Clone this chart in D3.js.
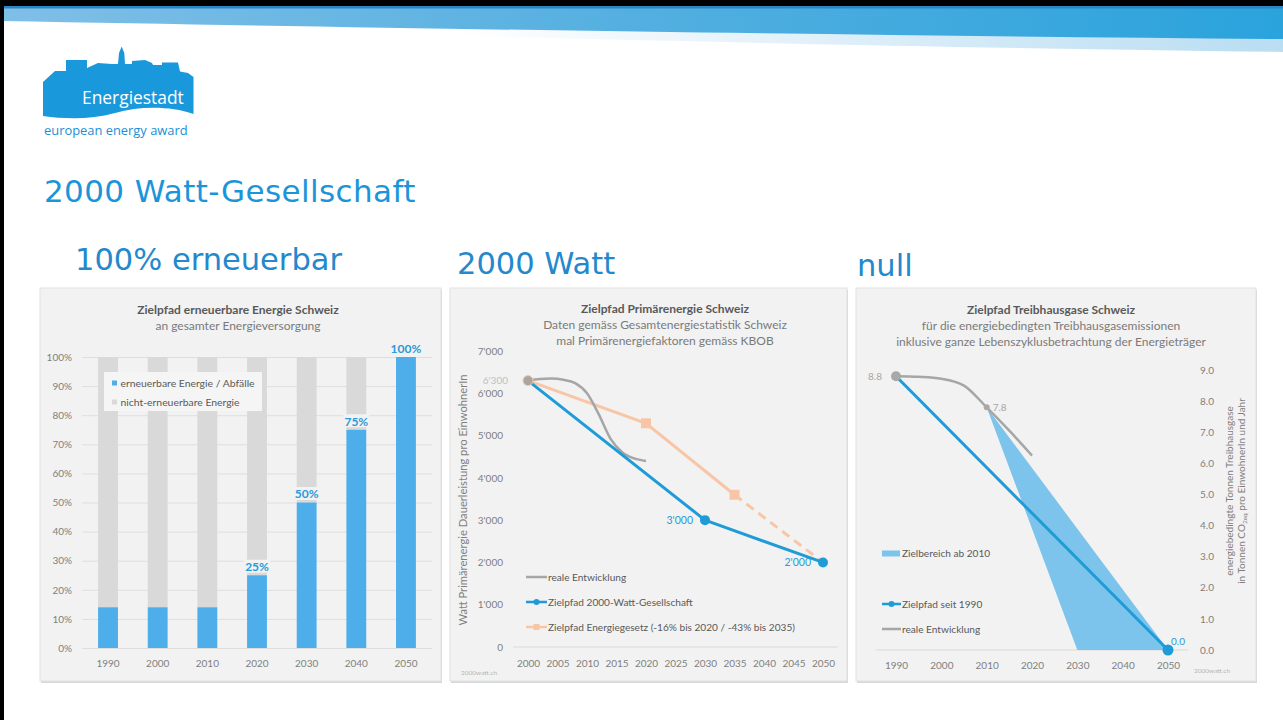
<!DOCTYPE html>
<html>
<head>
<meta charset="utf-8">
<script src="https://cdn.jsdelivr.net/npm/d3@7"></script>
<style>
html, body { margin: 0; padding: 0; background: #fff; }
svg { display: block; font-family: Lato, "Open Sans", sans-serif; }
</style>
</head>
<body>
<svg id="slide" width="1283" height="720"></svg>
<script>
// ---- Erneuerbare Energie (Anteil an gesamter Energieversorgung, %) ----
const renewYears = ["1990", "2000", "2010", "2020", "2030", "2040", "2050"];
const renewShare = [14, 14, 14, 25, 50, 75, 100];
const pctTicks = [0, 10, 20, 30, 40, 50, 60, 70, 80, 90, 100];

// ---- Primärenergie (Watt Dauerleistung pro EinwohnerIn) ----
const wattTicks = [0, 1000, 2000, 3000, 4000, 5000, 6000, 7000];
const wattYearTicks = [2000, 2005, 2010, 2015, 2020, 2025, 2030, 2035, 2040, 2045, 2050];
const realYears = [2000, 2002, 2004, 2006, 2008, 2010, 2012, 2014, 2016, 2018, 2020];
const realWatt = [6300, 6340, 6350, 6320, 6240, 6000, 5500, 4920, 4600, 4460, 4400];
const goalYears = [2000, 2030, 2050];
const goalWatt = [6300, 3000, 2000];
const lawYears = [2000, 2020, 2035, 2050];
const lawWatt = [6300, 5290, 3600, 2000];

// ---- Treibhausgase (t CO2eq pro EinwohnerIn und Jahr) ----
const ghgTicks = [0, 1, 2, 3, 4, 5, 6, 7, 8, 9];
const ghgYearTicks = [1990, 2000, 2010, 2020, 2030, 2040, 2050];
const ghgRealYears = [1990, 1995, 2000, 2005, 2010, 2015, 2020];
const ghgReal = [8.8, 8.78, 8.72, 8.5, 7.8, 7.05, 6.25];
const ghgGoalYears = [1990, 2050];
const ghgGoal = [8.8, 0];
const zoneYears = [2010, 2030, 2050];
const zoneLow = [7.8, 0, 0];
const zoneHigh = [7.8, 3.9, 0];

const ch = d3.formatLocale({ decimal: ".", thousands: "'", grouping: [3], currency: ["CHF ", ""] });
const fmtWatt = ch.format(",");
const fmtGhg = d3.format(".1f");

const svg = d3.select("#slide");
const defs = svg.append("defs");

const COL = {
  blue: "#1f9bd7", bar: "#4daeea", grey: "#d9d9d9", greyLine: "#a6a6a6",
  orange: "#f8c6a6", zone: "#7cc4eb", label: "#2a9ad8",
  title: "#595959", sub: "#7a7a7a", tick: "#7f7f7f", panel: "#f2f2f2"
};
const HEAD_FONT = "'DejaVu Sans', Verdana, sans-serif";
const LOGO_FONT = "'Open Sans', sans-serif";

// ---------- slide frame and banner ----------
const gBan = defs.append("linearGradient").attr("id", "banner").attr("x1", 0).attr("x2", 1);
gBan.append("stop").attr("offset", 0).attr("stop-color", "#80bfe7");
gBan.append("stop").attr("offset", 0.5).attr("stop-color", "#53afe0");
gBan.append("stop").attr("offset", 1).attr("stop-color", "#2aa3dc");
const gWave = defs.append("linearGradient").attr("id", "wave").attr("x1", 0).attr("x2", 1);
gWave.append("stop").attr("offset", 0.35).attr("stop-color", "#ffffff");
gWave.append("stop").attr("offset", 1).attr("stop-color", "#b9ddf2");

svg.append("rect").attr("width", 1283).attr("height", 720).attr("fill", "#fff");
svg.append("path").attr("d", "M0,18 C400,26 800,34 1283,38 L1283,52 C900,47 600,40 0,24 Z").attr("fill", "url(#wave)");
svg.append("path").attr("d", "M0,6 L1283,6 L1283,39 C900,36 500,30 0,21 Z").attr("fill", "url(#banner)");
svg.append("rect").attr("x", 0).attr("y", 6).attr("width", 1283).attr("height", 2.5).attr("fill", "#2a85c4");
svg.append("rect").attr("x", 0).attr("y", 0).attr("width", 1283).attr("height", 6).attr("fill", "#000");
svg.append("rect").attr("x", 0).attr("y", 0).attr("width", 4).attr("height", 720).attr("fill", "#000");

// ---------- logo ----------
const logo = svg.append("g");
logo.append("path")
  .attr("d", "M43,82 L55,71 L66,71 L66,60 L87,60 L87,68 L98,63 L112,64 L118,64 L119,53 L121.7,46.5 L124.3,53 L125,64 L132,64 L132,61 L145,60 L152,63 L153,65 L162,65 L162,62.5 L178,62.5 L180,71.5 L188,73 L193.5,77 L193.5,114 C170,106 140,106 115,113 C90,120 65,119 43,116 Z")
  .attr("fill", "#1a98dc");
logo.append("text").attr("x", 82).attr("y", 104).style("font-family", LOGO_FONT).attr("font-size", 17.4)
  .attr("fill", "#fff").text("Energiestadt");
logo.append("text").attr("x", 44).attr("y", 135).style("font-family", LOGO_FONT).attr("font-size", 12.9)
  .attr("fill", "#1a8fd6").text("european energy award");

// ---------- headings ----------
svg.append("text").attr("x", 44).attr("y", 202).style("font-family", HEAD_FONT).attr("font-size", 31)
  .attr("letter-spacing", 0.4).attr("fill", "#1b95d9").text("2000 Watt-Gesellschaft");
const heads = [
  { t: "100% erneuerbar", x: 75, y: 270 },
  { t: "2000 Watt", x: 457, y: 274 },
  { t: "null", x: 857, y: 276 }
];
svg.selectAll("text.head").data(heads).join("text").attr("class", "head")
  .attr("x", d => d.x).attr("y", d => d.y).style("font-family", HEAD_FONT).attr("font-size", 30.5)
  .attr("fill", "#2389cc").text(d => d.t);

// ---------- panels ----------
const panels = [
  { x: 40, y: 288, w: 401, h: 393 },
  { x: 450, y: 288, w: 397, h: 393 },
  { x: 856, y: 288, w: 400, h: 393 }
];
svg.selectAll("rect.shadow").data(panels).join("rect").attr("class", "shadow")
  .attr("x", d => d.x + 1).attr("y", d => d.y + 2).attr("width", d => d.w).attr("height", d => d.h).attr("fill", "#d8d8d8");
svg.selectAll("rect.panel").data(panels).join("rect").attr("class", "panel")
  .attr("x", d => d.x).attr("y", d => d.y).attr("width", d => d.w).attr("height", d => d.h)
  .attr("fill", COL.panel).attr("stroke", "#e2e2e2");

function titles(g, cx, lines) {
  lines.forEach((l, i) => {
    g.append("text").attr("x", cx).attr("y", l.y).attr("text-anchor", "middle")
      .attr("font-size", 12).attr("font-weight", i === 0 ? 700 : 400)
      .attr("fill", i === 0 ? COL.title : COL.sub).text(l.t);
  });
}
function styleAxis(g, size, color) {
  g.select(".domain").remove();
  g.selectAll("text").style("font-family", "Lato").attr("font-size", size).attr("fill", color);
}

// ================= Chart 1: erneuerbare Energie =================
const c1 = svg.append("g");
titles(c1, 238, [
  { t: "Zielpfad erneuerbare Energie Schweiz", y: 314 },
  { t: "an gesamter Energieversorgung", y: 330 }
]);
const x1 = d3.scaleBand().domain(renewYears).range([83.2, 430.8]).paddingInner(0.6).paddingOuter(0.3);
const y1 = d3.scaleLinear().domain([0, 100]).range([648, 357]);

const ax1 = c1.append("g").attr("transform", "translate(82,0)")
  .call(d3.axisLeft(y1).tickValues(pctTicks).tickFormat(d => d + "%").tickSizeInner(-350).tickSizeOuter(0).tickPadding(10));
styleAxis(ax1, 10, COL.tick);
ax1.selectAll(".tick line").attr("stroke", "#dedede");

const bx1 = c1.append("g").attr("transform", "translate(0,648)")
  .call(d3.axisBottom(x1).tickSize(0).tickPadding(12));
styleAxis(bx1, 10, COL.tick);

const rows1 = renewYears.map((y, i) => ({ year: y, share: renewShare[i] }));
c1.selectAll("rect.rest").data(rows1).join("rect").attr("class", "rest")
  .attr("x", d => x1(d.year)).attr("width", x1.bandwidth())
  .attr("y", y1(100)).attr("height", d => y1(d.share) - y1(100)).attr("fill", COL.grey);
c1.selectAll("rect.ren").data(rows1).join("rect").attr("class", "ren")
  .attr("x", d => x1(d.year)).attr("width", x1.bandwidth())
  .attr("y", d => y1(d.share)).attr("height", d => y1(0) - y1(d.share)).attr("fill", COL.bar);

const lab1 = c1.selectAll("g.vlab").data(rows1.filter(d => d.share >= 25)).join("g").attr("class", "vlab")
  .attr("transform", d => `translate(${x1(d.year) + x1.bandwidth() / 2},${y1(d.share) - 8.5})`);
lab1.append("rect").attr("x", d => d.share === 100 ? -17 : -13).attr("y", -7).attr("width", d => d.share === 100 ? 34 : 26)
  .attr("height", 13).attr("fill", COL.panel);
lab1.append("text").attr("text-anchor", "middle").attr("dy", "0.36em").attr("font-size", 12).attr("font-weight", 700)
  .attr("fill", COL.label).text(d => d.share + "%");

// legend
const lg1 = c1.append("g");
lg1.append("rect").attr("x", 104).attr("y", 372).attr("width", 158).attr("height", 39).attr("fill", "#f5f5f5");
[{ t: "erneuerbare Energie / Abfälle", c: COL.bar, y: 383 }, { t: "nicht-erneuerbare Energie", c: COL.grey, y: 402 }]
  .forEach(it => {
    lg1.append("rect").attr("x", 112).attr("y", it.y - 2.5).attr("width", 5).attr("height", 5).attr("fill", it.c);
    lg1.append("text").attr("x", 120.5).attr("y", it.y).attr("dy", "0.35em").attr("font-size", 10.4).attr("fill", COL.title).text(it.t);
  });

// ================= Chart 2: Primärenergie =================
const c2 = svg.append("g");
titles(c2, 665, [
  { t: "Zielpfad Primärenergie Schweiz", y: 313 },
  { t: "Daten gemäss Gesamtenergiestatistik Schweiz", y: 329 },
  { t: "mal Primärenergiefaktoren gemäss KBOB", y: 345 }
]);
const x2 = d3.scaleLinear().domain([2000, 2050]).range([528, 823]);
const y2 = d3.scaleLinear().domain([0, 7000]).range([647, 351]);

const ax2 = c2.append("g").attr("transform", "translate(513,0)")
  .call(d3.axisLeft(y2).tickValues(wattTicks).tickFormat(fmtWatt).tickSize(0).tickPadding(10));
styleAxis(ax2, 10, COL.tick);
c2.append("line").attr("x1", x2(1997.5)).attr("x2", x2(2052.5)).attr("y1", y2(0)).attr("y2", y2(0)).attr("stroke", "#d9d9d9");
const bx2 = c2.append("g").attr("transform", `translate(0,${y2(0)})`)
  .call(d3.axisBottom(x2).tickValues(wattYearTicks).tickFormat(d3.format("d")).tickSize(0).tickPadding(13));
styleAxis(bx2, 10, COL.tick);

c2.append("text").attr("transform", "translate(467,500) rotate(-90)").attr("text-anchor", "middle")
  .attr("font-size", 11.2).attr("fill", COL.tick).text("Watt Primärenergie Dauerleistung pro EinwohnerIn");
c2.append("text").attr("x", 508).attr("y", y2(6300)).attr("dy", "0.35em").attr("text-anchor", "end")
  .attr("font-size", 10).attr("fill", "#c0c0c0").text(fmtWatt(6300));

const line2 = d3.line().x(d => x2(d[0])).y(d => y2(d[1]));
const lawPts = lawYears.map((y, i) => [y, lawWatt[i]]);
c2.append("path").attr("d", line2(lawPts.slice(0, 3))).attr("fill", "none").attr("stroke", COL.orange).attr("stroke-width", 3);
c2.append("path").attr("d", line2(lawPts.slice(2))).attr("fill", "none").attr("stroke", COL.orange).attr("stroke-width", 3)
  .attr("stroke-dasharray", "9,6");
c2.selectAll("rect.law").data(lawPts.slice(1, 3)).join("rect").attr("class", "law")
  .attr("x", d => x2(d[0]) - 5).attr("y", d => y2(d[1]) - 5).attr("width", 10).attr("height", 10).attr("fill", COL.orange);

const realPts = realYears.map((y, i) => [y, realWatt[i]]);
const smooth2 = d3.line().x(d => x2(d[0])).y(d => y2(d[1])).curve(d3.curveMonotoneX);
c2.append("path").attr("d", smooth2(realPts)).attr("fill", "none")
  .attr("stroke", COL.greyLine).attr("stroke-width", 2.5);

const goalPts = goalYears.map((y, i) => [y, goalWatt[i]]);
c2.append("path").attr("d", line2(goalPts)).attr("fill", "none")
  .attr("stroke", COL.blue).attr("stroke-width", 3).attr("stroke-linejoin", "round");
c2.selectAll("circle.goal").data(goalPts.slice(1)).join("circle").attr("class", "goal")
  .attr("cx", d => x2(d[0])).attr("cy", d => y2(d[1])).attr("r", 5).attr("fill", COL.blue);
c2.append("circle").attr("cx", x2(2000)).attr("cy", y2(6300)).attr("r", 5).attr("fill", "#aaa59f").attr("stroke", "#f3c9ad").attr("stroke-width", 1);
c2.selectAll("text.goal").data(goalPts.slice(1)).join("text").attr("class", "goal")
  .attr("x", d => x2(d[0]) - 12).attr("y", d => y2(d[1])).attr("dy", "0.35em").attr("text-anchor", "end")
  .attr("font-size", 10.5).attr("fill", COL.label).text(d => fmtWatt(d[1]));

const lg2 = c2.append("g");
[
  { t: "reale Entwicklung", c: COL.greyLine, y: 577, m: null },
  { t: "Zielpfad 2000-Watt-Gesellschaft", c: COL.blue, y: 602, m: "circle" },
  { t: "Zielpfad Energiegesetz (-16% bis 2020 / -43% bis 2035)", c: COL.orange, y: 627, m: "square" }
].forEach(it => {
  lg2.append("line").attr("x1", 526).attr("x2", 547).attr("y1", it.y).attr("y2", it.y).attr("stroke", it.c).attr("stroke-width", 2.5);
  if (it.m === "circle") lg2.append("circle").attr("cx", 536.5).attr("cy", it.y).attr("r", 3).attr("fill", it.c);
  if (it.m === "square") lg2.append("rect").attr("x", 533.5).attr("y", it.y - 3).attr("width", 6).attr("height", 6).attr("fill", it.c);
  lg2.append("text").attr("x", 548).attr("y", it.y).attr("dy", "0.35em").attr("font-size", 10.1).attr("fill", COL.title).text(it.t);
});
c2.append("text").attr("x", 461).attr("y", 675).attr("font-size", 6.5).attr("fill", "#b5b5b5").text("2000watt.ch");

// ================= Chart 3: Treibhausgase =================
const c3 = svg.append("g");
titles(c3, 1051, [
  { t: "Zielpfad Treibhausgase Schweiz", y: 314 },
  { t: "für die energiebedingten Treibhausgasemissionen", y: 330 },
  { t: "inklusive ganze Lebenszyklusbetrachtung der Energieträger", y: 346 }
]);
const x3 = d3.scaleLinear().domain([1990, 2050]).range([896, 1168]);
const y3 = d3.scaleLinear().domain([0, 9]).range([650, 370]);

const ax3 = c3.append("g").attr("transform", "translate(1190,0)")
  .call(d3.axisRight(y3).tickValues(ghgTicks).tickFormat(fmtGhg).tickSize(0).tickPadding(10));
styleAxis(ax3, 10, COL.tick);
c3.append("line").attr("x1", x3(1985.5)).attr("x2", x3(2054.5)).attr("y1", y3(0)).attr("y2", y3(0)).attr("stroke", "#d9d9d9");
const bx3 = c3.append("g").attr("transform", `translate(0,${y3(0)})`)
  .call(d3.axisBottom(x3).tickValues(ghgYearTicks).tickFormat(d3.format("d")).tickSize(0).tickPadding(12));
styleAxis(bx3, 10, COL.tick);

c3.append("text").attr("transform", "translate(1233,491) rotate(-90)").attr("text-anchor", "middle")
  .attr("font-size", 10).attr("fill", COL.tick).text("energiebedingte Tonnen Treibhausgase");
const rt2 = c3.append("text").attr("transform", "translate(1245,491) rotate(-90)").attr("text-anchor", "middle")
  .attr("font-size", 10).attr("fill", COL.tick);
rt2.append("tspan").text("in Tonnen CO");
rt2.append("tspan").attr("font-size", 6.5).attr("dy", 2).text("2eq");
rt2.append("tspan").attr("dy", -2).text("  pro EinwohnerIn und Jahr");

const zone = zoneYears.map((y, i) => ({ y, lo: zoneLow[i], hi: zoneHigh[i] }));
c3.append("path").attr("d", d3.area().x(d => x3(d.y)).y0(d => y3(d.lo)).y1(d => y3(d.hi))(zone)).attr("fill", COL.zone);

const ghgRealPts = ghgRealYears.map((y, i) => [y, ghgReal[i]]);
c3.append("path").attr("d", d3.line().x(d => x3(d[0])).y(d => y3(d[1])).curve(d3.curveMonotoneX)(ghgRealPts)).attr("fill", "none")
  .attr("stroke", COL.greyLine).attr("stroke-width", 2.5);
const ghgGoalPts = ghgGoalYears.map((y, i) => [y, ghgGoal[i]]);
c3.append("path").attr("d", d3.line().x(d => x3(d[0])).y(d => y3(d[1]))(ghgGoalPts)).attr("fill", "none")
  .attr("stroke", COL.blue).attr("stroke-width", 3);
c3.append("circle").attr("cx", x3(2050)).attr("cy", y3(0)).attr("r", 5.5).attr("fill", COL.blue);
c3.append("circle").attr("cx", x3(1990)).attr("cy", y3(8.8)).attr("r", 5).attr("fill", "#a8a8a8");
c3.append("circle").attr("cx", x3(2010)).attr("cy", y3(7.8)).attr("r", 3).attr("fill", "#a8a8a8");
c3.append("text").attr("x", x3(1990) - 14).attr("y", y3(8.8)).attr("dy", "0.35em").attr("text-anchor", "end")
  .attr("font-size", 10).attr("fill", "#a6a6a6").text(fmtGhg(8.8));
c3.append("text").attr("x", x3(2010) + 6).attr("y", y3(7.8)).attr("dy", "0.35em")
  .attr("font-size", 10).attr("fill", "#a6a6a6").text(fmtGhg(7.8));
c3.append("text").attr("x", x3(2050) + 3).attr("y", y3(0) - 9).attr("dy", "0.35em")
  .attr("font-size", 10).attr("fill", COL.label).text(fmtGhg(0));

const lg3 = c3.append("g");
lg3.append("rect").attr("x", 882).attr("y", 550.5).attr("width", 18).attr("height", 6).attr("fill", COL.zone);
lg3.append("text").attr("x", 902).attr("y", 553.5).attr("dy", "0.35em").attr("font-size", 10.1).attr("fill", COL.title).text("Zielbereich ab 2010");
lg3.append("line").attr("x1", 882).attr("x2", 901).attr("y1", 604).attr("y2", 604).attr("stroke", COL.blue).attr("stroke-width", 2.5);
lg3.append("circle").attr("cx", 891.5).attr("cy", 604).attr("r", 3).attr("fill", COL.blue);
lg3.append("text").attr("x", 902).attr("y", 604).attr("dy", "0.35em").attr("font-size", 10.1).attr("fill", COL.title).text("Zielpfad seit 1990");
lg3.append("line").attr("x1", 882).attr("x2", 901).attr("y1", 629).attr("y2", 629).attr("stroke", COL.greyLine).attr("stroke-width", 2.5);
lg3.append("text").attr("x", 902).attr("y", 629).attr("dy", "0.35em").attr("font-size", 10.1).attr("fill", COL.title).text("reale Entwicklung");
c3.append("text").attr("x", 1194).attr("y", 673).attr("font-size", 6.5).attr("fill", "#b5b5b5").text("2000watt.ch");
</script>
</body>
</html>
